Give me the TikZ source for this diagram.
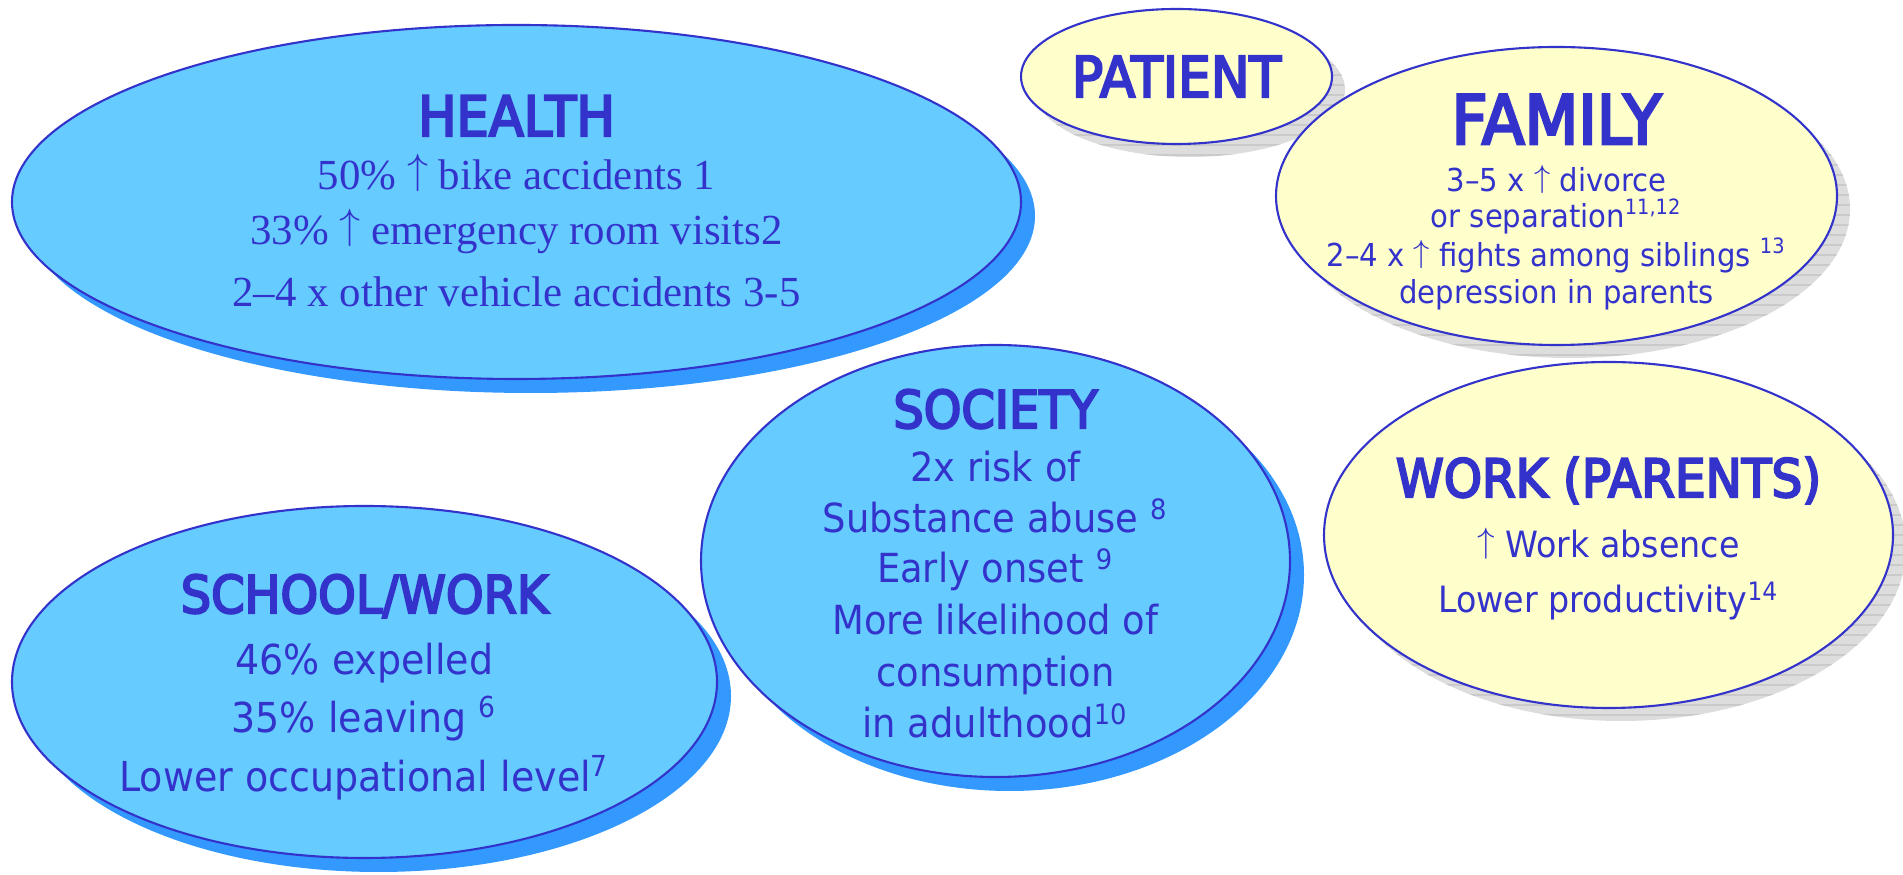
\documentclass[tikz,border=0pt]{standalone}
\usepackage{fontspec}
\usetikzlibrary{shapes.geometric,shadows,patterns.meta}

\newfontfamily\headfont[FakeStretch=0.92,FakeBold=4]{DejaVu Sans}
\newfontfamily\bodyfont[FakeStretch=0.92]{DejaVu Sans}
\newfontfamily\serifbody{Liberation Serif}
\newcommand\upar{\smash{\raisebox{0.15em}{$\uparrow$}}}

\definecolor{skyfill}{HTML}{66CCFF}
\definecolor{skyshadow}{HTML}{3399FF}
\definecolor{creamfill}{HTML}{FFFFCC}
\definecolor{greyshadow}{HTML}{DDDDDD}
\definecolor{stripegrey}{HTML}{CACACA}
\definecolor{inkblue}{HTML}{3333CC}

\tikzset{
  bubble/.style={ellipse, draw=inkblue, line width=0.6pt, inner sep=0pt},
  bluebubble/.style={bubble, fill=skyfill,
    drop shadow={shadow xshift=0.14cm, shadow yshift=-0.14cm, fill=skyshadow, opacity=1}},
  creambubble/.style={bubble, fill=creamfill,
    drop shadow={shadow xshift=0.13cm, shadow yshift=-0.13cm, fill=greyshadow, opacity=1},
    drop shadow={shadow xshift=0.13cm, shadow yshift=-0.13cm, opacity=1,
      pattern={Lines[distance=0.1cm, line width=0.4pt]}, pattern color=stripegrey}},
  heading/.style={text=inkblue, anchor=base, inner sep=0pt,
    font=\headfont\fontsize{#1}{#1}\selectfont},
  heading/.default=14.8,
  entry/.style={text=inkblue, anchor=base, inner sep=0pt, font=\bodyfont\fontsize{#1}{#1}\selectfont},
  serifentry/.style={text=inkblue, anchor=base, inner sep=0pt,
    font=\serifbody\fontsize{12.2}{14}\selectfont}
}

\begin{document}
\begin{tikzpicture}
  \useasboundingbox (0,0) rectangle (19.03,8.75);

  % Blue bubbles
  \node[bluebubble, minimum width=10.09cm, minimum height=3.54cm] (health) at (5.165,6.73) {};
  \node[bluebubble, minimum width=7.05cm, minimum height=3.52cm] (school) at (3.645,1.93) {};
  \node[bluebubble, minimum width=5.89cm, minimum height=4.32cm] (society) at (9.955,3.14) {};

  % Yellow bubbles
  \node[creambubble, minimum width=3.11cm, minimum height=1.35cm] (patient) at (11.765,7.985) {};
  \node[creambubble, minimum width=5.61cm, minimum height=2.98cm] (family) at (15.565,6.79) {};
  \node[creambubble, minimum width=5.69cm, minimum height=3.46cm] (work) at (16.085,3.40) {};

  % Health
  \node[heading=15.8] (healthT) at (5.165,7.39) {HEALTH};
  \foreach \y/\txt [count=\i] in {6.855/{50\% \upar{} bike accidents 1},
                                 6.30/{33\% \upar{} emergency room visits2},
                                 5.68/{2–4 x other vehicle accidents 3-5}}
  {\node[serifentry] (health\i) at (5.165,\y) {\txt};}

  % Patient
  \node[heading=16] (patientT) at (11.765,7.78) {PATIENT};

  % Family
  \node[heading=19.3] (familyT) at (15.565,7.31) {FAMILY};
  \foreach \y/\txt [count=\i] in {6.83/{3–5 x \upar{} divorce},
                                 6.47/{or separation\textsuperscript{11,12}},
                                 6.08/{2–4 x \upar{} fights among siblings \textsuperscript{13}},
                                 5.71/{depression in parents}}
  {\node[entry=9] (family\i) at (15.565,\y) {\txt};}

  % Society
  \node[heading] (societyT) at (9.955,4.47) {SOCIETY};
  \foreach \y/\txt [count=\i] in {3.93/{2x risk of},
                                 3.42/{Substance abuse \textsuperscript{8}},
                                 2.92/{Early onset \textsuperscript{9}},
                                 2.40/{More likelihood of},
                                 1.88/{consumption},
                                 1.37/{in adulthood\textsuperscript{10}}}
  {\node[entry=11.4] (society\i) at (9.955,\y) {\txt};}

  % School/work
  \node[heading] (schoolT) at (3.645,2.62) {SCHOOL/WORK};
  \foreach \y/\txt [count=\i] in {2.00/{46\% expelled},
                                 1.42/{35\% leaving \textsuperscript{6}},
                                 0.83/{Lower occupational level\textsuperscript{7}}}
  {\node[entry=11.75] (school\i) at (3.645,\y) {\txt};}

  % Work (parents)
  \node[heading=15] (workT) at (16.085,3.78) {WORK (PARENTS)};
  \foreach \y/\txt [count=\i] in {3.17/{\upar{} Work absence},
                                 2.62/{Lower productivity\textsuperscript{14}}}
  {\node[entry=10.3] (work\i) at (16.085,\y) {\txt};}
\end{tikzpicture}
\end{document}
